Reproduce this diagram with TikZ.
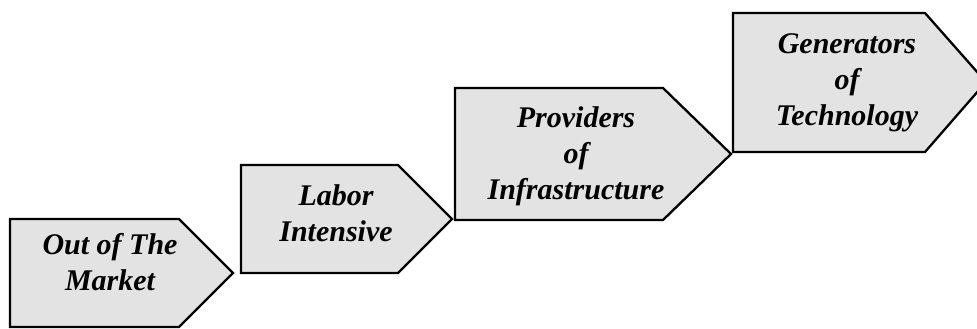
\documentclass[tikz,border=0pt]{standalone}
\usepackage{fontspec}
\setmainfont{Liberation Serif}
\tikzset{
  stepshape/.style={draw=black, line width=2.3pt, fill=gray!22, line join=miter},
  steplabel/.style={font=\fontsize{30}{36}\selectfont\bfseries\itshape, align=center, inner sep=0pt, text=black}
}
\begin{document}
\begin{tikzpicture}[x=1pt,y=-1pt]
\clip (0,0) rectangle (977,329);
\fill[white] (0,0) rectangle (977,329);
% step shapes
\draw[stepshape] (10,219) -- (179,219) -- (233,273) -- (179,327) -- (10,327) -- cycle;
\draw[stepshape] (241,165) -- (398,165) -- (452,219) -- (398,273) -- (241,273) -- cycle;
\draw[stepshape] (455,88) -- (663,88) -- (731,154) -- (663,220) -- (455,220) -- cycle;
\draw[stepshape] (733,13) -- (925,13) -- (986,82) -- (925,152) -- (733,152) -- cycle;
% labels
\node[steplabel] (market) at (110,262) {Out of The\\Market};
\node[steplabel] (labor) at (336,213) {Labor\\Intensive};
\node[steplabel] (infra) at (576,156) {Providers\\of\\Infrastructure};
\node[steplabel] (tech) at (847,83) {Generators\\of\\Technology};
\end{tikzpicture}
\end{document}
